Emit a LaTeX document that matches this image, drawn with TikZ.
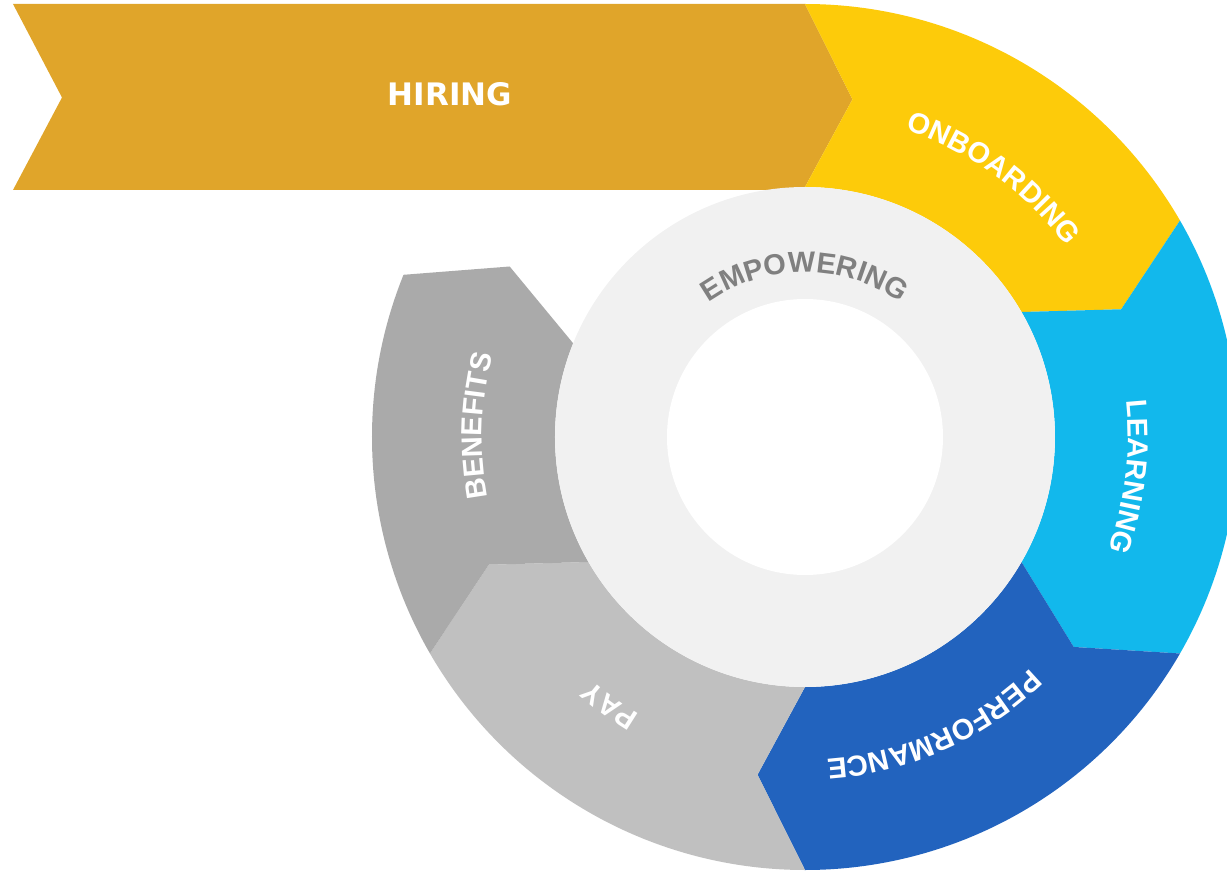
\documentclass[tikz,border=0pt]{standalone}
\usepackage{fontspec}
\usepackage{xcolor}
\usetikzlibrary{decorations.text}
\setmainfont{Liberation Sans}
\newfontfamily\hiringfont{DejaVu Sans}
\newcommand\seglabelfont{\bfseries\fontsize{29}{31}\selectfont}
\definecolor{hiring}{HTML}{E0A52A}
\definecolor{onboard}{HTML}{FDCB0A}
\definecolor{learn}{HTML}{12B8EC}
\definecolor{perform}{HTML}{2263BE}
\definecolor{paygray}{HTML}{C0C0C0}
\definecolor{benefit}{HTML}{AAAAAA}
\definecolor{ring}{HTML}{F1F1F1}
\definecolor{ringtext}{HTML}{808080}
\def\outerR{433}
\def\midR{341}
\def\innerR{250}
\def\holeR{138}
\def\textR{323}
\def\tipshift{8}

\begin{document}
\begin{tikzpicture}[x=1pt,y=1pt]
    \tikzstyle{hiring label}=[text=white, inner sep=0pt, font=\hiringfont\bfseries\fontsize{31}{33}\selectfont]
    \useasboundingbox (-805,-436) rectangle (422,437);
    \coordinate (hub) at (0,0);

    % Draw the hiring arrow
    \fill[hiring] (-792,433) -- (90:\outerR) -- (90-\tipshift:\midR) -- (90:\innerR)
        -- (0,247) -- (-792,247) -- (-743,339.5) -- cycle;
    \node[hiring label] (hiring) at (-355,343) {HIRING};

    % Draw the ring segments, each one ends in a chevron tip
    \foreach \col / \from / \to in {onboard/90/30, learn/30/-30, perform/-30/-90, paygray/-90/-150, benefit/-150/-202}
        \fill[\col] (\from:\outerR) arc[start angle=\from, end angle=\to, radius=\outerR]
            -- ({\to-\tipshift}:\midR) -- (\to:\innerR)
            arc[start angle=\to, end angle=\from, radius=\innerR]
            -- ({\from-\tipshift}:\midR) -- cycle;

    % Draw the empowering ring and the hole
    \fill[ring] (hub) circle[radius=\innerR];
    \fill[white] (hub) circle[radius=\holeR];

    % Curved labels, clockwise
    \foreach \name / \mid in {ONBOARDING/54, LEARNING/-7, PERFORMANCE/-66, PAY/-126, BENEFITS/178}
        \path[decorate, decoration={text along path, text align=center, text color=white,
                text/.expanded={|\noexpand\seglabelfont|\name}}]
            ({\mid+45}:\textR) arc[start angle={\mid+45}, end angle={\mid-45}, radius=\textR];

    \path[decorate, decoration={text along path, text align=center, text color=ringtext,
            text={|\seglabelfont|EMPOWERING}}]
        (150:165) arc[start angle=150, end angle=30, radius=165];
\end{tikzpicture}
\end{document}
